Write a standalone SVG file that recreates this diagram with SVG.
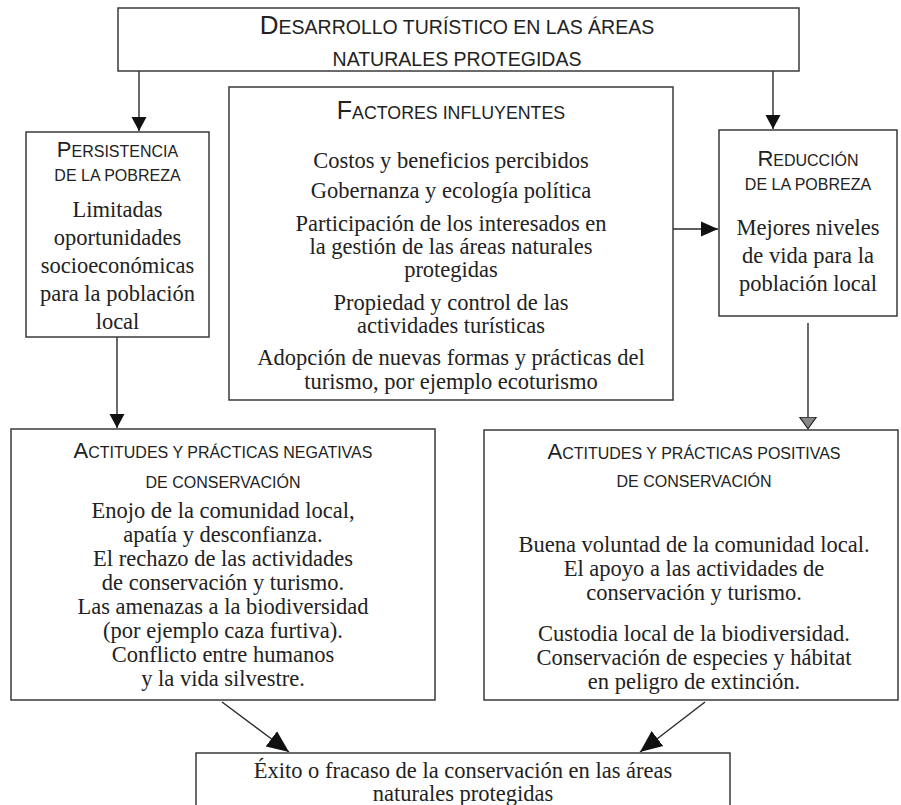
<svg xmlns="http://www.w3.org/2000/svg" width="901" height="805" viewBox="0 0 901 805">
<defs>
<style>
.box{fill:#fff;stroke:#3a3a3a;stroke-width:1.5}
.ln{fill:none;stroke:#2a2a2a;stroke-width:1.4}
.hd{font-family:"Liberation Sans",Arial,sans-serif;font-size:16px;fill:#222;text-anchor:middle}
.tt{font-size:19.5px}
.fh{font-size:17.8px}
.tx{font-family:"Liberation Serif","Times New Roman",serif;font-size:22.5px;fill:#222;text-anchor:middle}
</style>
<marker id="ah" markerUnits="userSpaceOnUse" markerWidth="14" markerHeight="16" viewBox="0 0 14 16" refX="14" refY="8" orient="auto"><path d="M0,0.5 L14,8 L0,15.5 Z" fill="#111"/></marker>
<marker id="ahm" markerUnits="userSpaceOnUse" markerWidth="17" markerHeight="16" viewBox="0 0 17 16" refX="17" refY="8" orient="auto"><path d="M0,0.5 L17,8 L0,15.5 Z" fill="#111"/></marker>
<marker id="ahg" markerUnits="userSpaceOnUse" markerWidth="13" markerHeight="18" viewBox="0 0 13 18" refX="12.5" refY="9" orient="auto"><path d="M0.7,0.7 L12.3,9 L0.7,17.3 Z" fill="#888" stroke="#222" stroke-width="1.2"/></marker>
<marker id="ahl" markerUnits="userSpaceOnUse" markerWidth="22" markerHeight="20" viewBox="0 0 22 20" refX="22" refY="10" orient="auto"><path d="M0,0.5 L22,10 L0,19.5 Z" fill="#111"/></marker>
</defs>

<g id="connectors">
<line class="ln" x1="139" y1="71" x2="139" y2="131" marker-end="url(#ah)"/>
<line class="ln" x1="773" y1="71" x2="773" y2="129" marker-end="url(#ah)"/>
<line class="ln" x1="673" y1="229" x2="718" y2="229" marker-end="url(#ahm)"/>
<line class="ln" x1="117" y1="337" x2="117" y2="428" marker-end="url(#ah)"/>
<line class="ln" x1="808" y1="323" x2="808" y2="429" marker-end="url(#ahg)"/>
<line class="ln" x1="222" y1="702" x2="289" y2="752" marker-end="url(#ahl)"/>
<line class="ln" x1="705" y1="702" x2="640" y2="752" marker-end="url(#ahl)"/>
</g>

<g id="node-top">
<rect class="box" x="118" y="8" width="681" height="63"/>
<text class="hd tt" x="457" y="34"><tspan font-size="26">D</tspan>ESARROLLO TURÍSTICO EN LAS ÁREAS</text>
<text class="hd tt" x="457" y="66">NATURALES PROTEGIDAS</text>
</g>

<g id="node-persistencia">
<rect class="box" x="26" y="132" width="183" height="205"/>
<text class="hd" x="117.5" y="157"><tspan font-size="22">P</tspan>ERSISTENCIA</text>
<text class="hd" x="117.5" y="181">DE LA POBREZA</text>
<text class="tx" x="117.5" y="217">Limitadas</text>
<text class="tx" x="117.5" y="245">oportunidades</text>
<text class="tx" x="117.5" y="273">socioeconómicas</text>
<text class="tx" x="117.5" y="301">para la población</text>
<text class="tx" x="117.5" y="329">local</text>
</g>

<g id="node-factores">
<rect class="box" x="229" y="87" width="444" height="313"/>
<text class="hd fh" x="451" y="119"><tspan font-size="25">F</tspan>ACTORES INFLUYENTES</text>
<text class="tx" x="451" y="168">Costos y beneficios percibidos</text>
<text class="tx" x="451" y="198">Gobernanza y ecología política</text>
<text class="tx" x="451" y="231">Participación de los interesados en</text>
<text class="tx" x="451" y="254">la gestión de las áreas naturales</text>
<text class="tx" x="451" y="277">protegidas</text>
<text class="tx" x="451" y="310">Propiedad y control de las</text>
<text class="tx" x="451" y="333">actividades turísticas</text>
<text class="tx" x="451" y="365">Adopción de nuevas formas y prácticas del</text>
<text class="tx" x="451" y="389">turismo, por ejemplo ecoturismo</text>
</g>

<g id="node-reduccion">
<rect class="box" x="719" y="130" width="178" height="186"/>
<text class="hd" x="808" y="166"><tspan font-size="22">R</tspan>EDUCCIÓN</text>
<text class="hd" x="808" y="190">DE LA POBREZA</text>
<text class="tx" x="808" y="235">Mejores niveles</text>
<text class="tx" x="808" y="263">de vida para la</text>
<text class="tx" x="808" y="291">población local</text>
</g>

<g id="node-negativas">
<rect class="box" x="11" y="429" width="424" height="271"/>
<text class="hd" x="223" y="458"><tspan font-size="22">A</tspan>CTITUDES Y PRÁCTICAS NEGATIVAS</text>
<text class="hd" x="223" y="488">DE CONSERVACIÓN</text>
<text class="tx" x="223" y="518">Enojo de la comunidad local,</text>
<text class="tx" x="223" y="542">apatía y desconfianza.</text>
<text class="tx" x="223" y="566">El rechazo de las actividades</text>
<text class="tx" x="223" y="590">de conservación y turismo.</text>
<text class="tx" x="223" y="614">Las amenazas a la biodiversidad</text>
<text class="tx" x="223" y="638">(por ejemplo caza furtiva).</text>
<text class="tx" x="223" y="662">Conflicto entre humanos</text>
<text class="tx" x="223" y="686">y la vida silvestre.</text>
</g>

<g id="node-positivas">
<rect class="box" x="484" y="430" width="414" height="270"/>
<text class="hd" x="694" y="459"><tspan font-size="22">A</tspan>CTITUDES Y PRÁCTICAS POSITIVAS</text>
<text class="hd" x="694" y="487">DE CONSERVACIÓN</text>
<text class="tx" x="694" y="552">Buena voluntad de la comunidad local.</text>
<text class="tx" x="694" y="576">El apoyo a las actividades de</text>
<text class="tx" x="694" y="600">conservación y turismo.</text>
<text class="tx" x="694" y="641">Custodia local de la biodiversidad.</text>
<text class="tx" x="694" y="665">Conservación de especies y hábitat</text>
<text class="tx" x="694" y="689">en peligro de extinción.</text>
</g>

<g id="node-exito">
<rect class="box" x="196" y="753" width="534" height="70"/>
<text class="tx" x="463" y="778">Éxito o fracaso de la conservación en las áreas</text>
<text class="tx" x="463" y="801">naturales protegidas</text>
</g>
</svg>
